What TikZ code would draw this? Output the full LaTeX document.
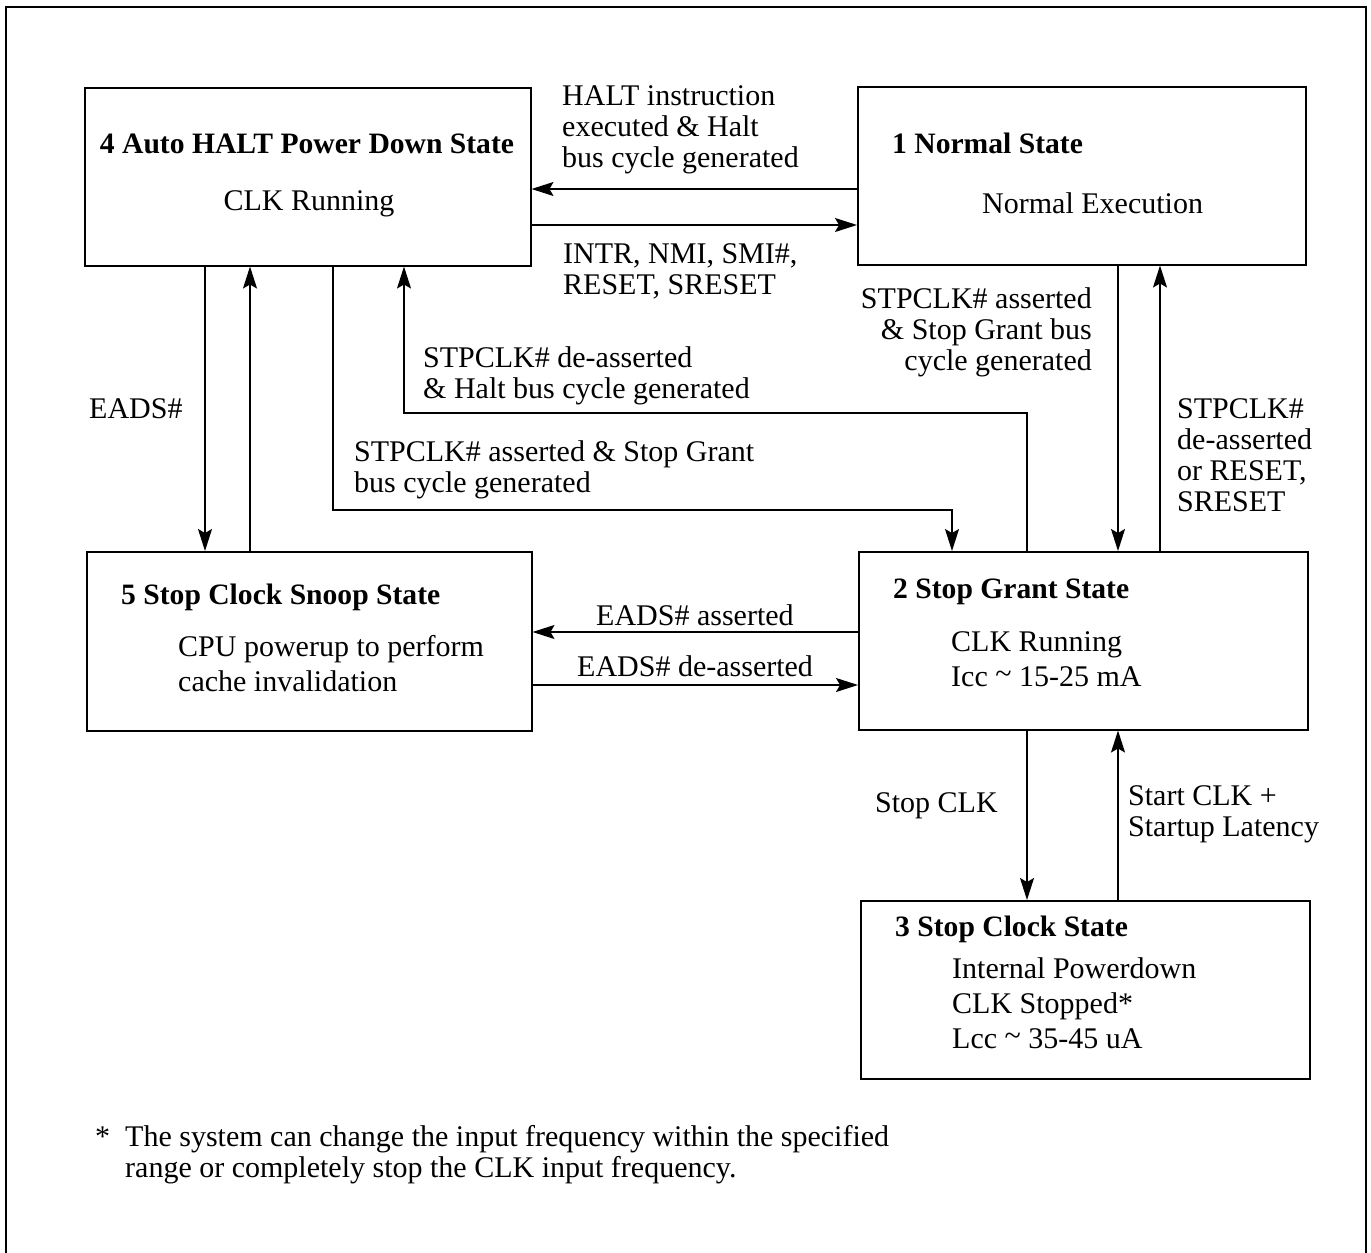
\documentclass[tikz,border=0pt]{standalone}
\usepackage{fontspec}
\setmainfont{Liberation Serif}
\usetikzlibrary{arrows.meta}
\begin{document}
\begin{tikzpicture}[x=1pt,y=-1pt,
  txt/.style={inner sep=0pt,font=\fontsize{30}{31}\selectfont,align=left},
  body/.style={txt,font=\fontsize{30}{35}\selectfont},
  hd/.style={txt,font=\fontsize{29.6}{31}\selectfont\bfseries},
  box/.style={draw,line width=1.5pt,anchor=north west,inner sep=0pt},
  arr/.style={line width=1.4pt,-{Stealth[length=22pt,width=14pt,inset=4pt]}},
  ln/.style={line width=1.4pt}]
\useasboundingbox (0,0) rectangle (1371,1253);
\draw[line width=2pt] (6,1253) -- (6,7) -- (1366,7) -- (1366,1253);
% boxes
\node[box,minimum width=446pt,minimum height=178pt] (b4) at (84,87) {};
\node[box,minimum width=448pt,minimum height=178pt] (b1) at (857,86) {};
\node[box,minimum width=445pt,minimum height=179pt] (b5) at (86,551) {};
\node[box,minimum width=449pt,minimum height=178pt] (b2) at (858,551) {};
\node[box,minimum width=449pt,minimum height=178pt] (b3) at (860,900) {};
% box texts
\node[hd] (t4a) at (307,144) {4 Auto HALT Power Down State};
\node[txt] (t4b) at (309,204) {CLK Running};
\node[hd,anchor=west] (t1a) at (892,143) {1 Normal State};
\node[txt,anchor=west] (t1b) at (982,203) {Normal Execution};
\node[hd,anchor=west] (t5a) at (121,597) {5 Stop Clock Snoop State};
\node[body,anchor=west] (t5b) at (178,664) {CPU powerup to perform\\cache invalidation};
\node[hd,anchor=west] (t2a) at (893,592) {2 Stop Grant State};
\node[body,anchor=west] (t2b) at (951,659) {CLK Running\\Icc {\raisebox{0.2ex}{\char"007E}} 15-25 mA};
\node[hd,anchor=west] (t3a) at (895,929) {3 Stop Clock State};
\node[body,anchor=west] (t3b) at (952,1003) {Internal Powerdown\\CLK Stopped*\\Lcc {\raisebox{0.2ex}{\char"007E}} 35-45 uA};
% arrows
\draw[arr] (b1.west |- 0,189) -- (b4.east |- 0,189);
\draw[arr] (b4.east |- 0,225) -- (b1.west |- 0,225);
\draw[arr] (205,0 |- b4.south) -- (205,0 |- b5.north);
\draw[arr] (250,0 |- b5.north) -- (250,0 |- b4.south);
\draw[arr] (333,0 |- b4.south) |- (952,510) -- (952,0 |- b2.north);
\draw[arr] (1027,0 |- b2.north) |- (404,413) -- (404,0 |- b4.south);
\draw[arr] (1118,0 |- b1.south) -- (1118,0 |- b2.north);
\draw[arr] (1160,0 |- b2.north) -- (1160,0 |- b1.south);
\draw[arr] (b2.west |- 0,632) -- (b5.east |- 0,632);
\draw[arr] (b5.east |- 0,685) -- (b2.west |- 0,685);
\draw[arr] (1027,0 |- b2.south) -- (1027,0 |- b3.north);
\draw[arr] (1118,0 |- b3.north) -- (1118,0 |- b2.south);
% labels
\node[txt,anchor=west] (l1) at (562,130) {HALT instruction\\executed \& Halt\\bus cycle generated};
\node[txt,anchor=west] (l2) at (563,271) {INTR, NMI, SMI\#,\\RESET, SRESET};
\node[txt,anchor=east,align=right] (l3) at (1092,332) {STPCLK\# asserted\\\& Stop Grant bus\\cycle generated};
\node[txt,anchor=west] (l4) at (1177,455) {STPCLK\#\\de-asserted\\or RESET,\\SRESET};
\node[txt,anchor=west] (l5) at (423,376) {STPCLK\# de-asserted\\\& Halt bus cycle generated};
\node[txt,anchor=west] (l6) at (354,470) {STPCLK\# asserted \& Stop Grant\\bus cycle generated};
\node[txt,anchor=west] (l7) at (89,409) {EADS\#};
\node[txt,anchor=west] (l8) at (596,615) {EADS\# asserted};
\node[txt,anchor=west] (l9) at (577,666) {EADS\# de-asserted};
\node[txt,anchor=west] (l10) at (875,806) {Stop CLK};
\node[txt,anchor=west] (l11) at (1128,814) {Start CLK +\\Startup Latency};
% footnote
\node[txt,anchor=west] (fn) at (125,1155) {\llap{*\hspace{15pt}}The system can change the input frequency within the specified\\range or completely stop the CLK input frequency.};
\end{tikzpicture}
\end{document}
